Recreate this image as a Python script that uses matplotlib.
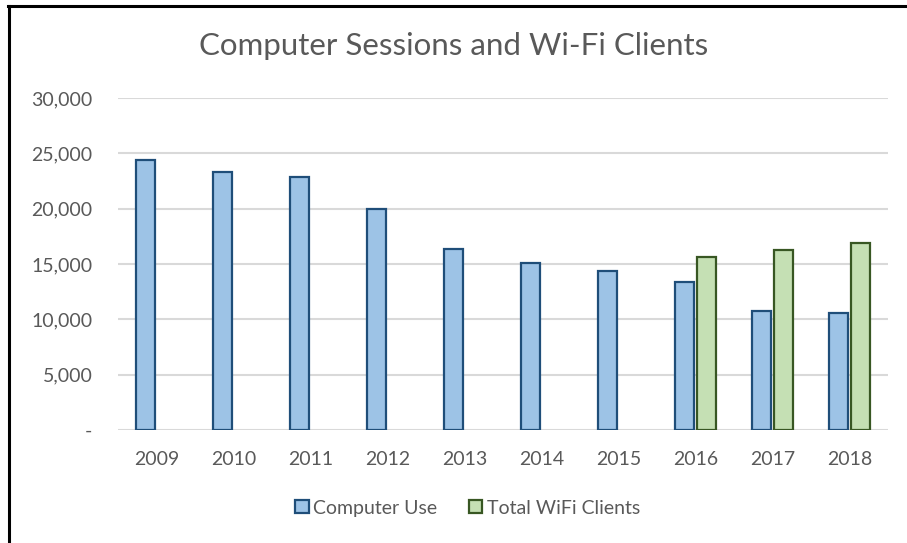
import matplotlib.pyplot as plt
from matplotlib.lines import Line2D
import numpy as np

years = ['2009', '2010', '2011', '2012', '2013', '2014', '2015', '2016', '2017', '2018']
computer_use = [24400, 23300, 22850, 19930, 16400, 15100, 14380, 13350, 10740, 10560]
wifi_clients = [0, 0, 0, 0, 0, 0, 0, 15620, 16260, 16900]
yticks = [0, 5000, 10000, 15000, 20000, 25000, 30000]
ytick_labels = ['-', '5,000', '10,000', '15,000', '20,000', '25,000', '30,000']

plt.rcParams['font.family'] = ['Lato', 'DejaVu Sans']
text_color = '#595959'

fig = plt.figure(figsize=(9.07, 5.43), dpi=100)
ax = fig.add_axes([118 / 907, 1 - 430 / 543, 770 / 907, 332 / 543])

x = np.arange(len(years))
w = 0.245
ax.bar(x - 0.145, computer_use, w, color='#9DC3E6', edgecolor='#1F4E79',
       linewidth=1.6, label='Computer Use', zorder=3)
wifi_mask = np.array(wifi_clients) > 0
ax.bar(x[wifi_mask] + 0.145, np.array(wifi_clients)[wifi_mask], w,
       color='#C5E0B4', edgecolor='#385723', linewidth=1.6,
       label='Total WiFi Clients', zorder=3)

ax.set_xlim(-0.5, len(years) - 0.5)
ax.set_ylim(0, 30000)
ax.set_yticks(yticks)
ax.set_yticklabels(ytick_labels)
ax.set_xticks(x)
ax.set_xticklabels(years)
ax.tick_params(axis='both', length=0, labelsize=14, colors=text_color)
ax.tick_params(axis='y', pad=18.5)
ax.tick_params(axis='x', pad=15)
ax.yaxis.grid(True, color='#D9D9D9', linewidth=1.5, zorder=0)
for s in ax.spines.values():
    s.set_visible(False)

fig.text(0.5, 1 - 46 / 543, 'Computer Sessions and Wi-Fi Clients',
         ha='center', va='center', fontsize=22.5, color=text_color)

ax.legend(loc='center', bbox_to_anchor=(0.454, -0.235),
          ncol=2, frameon=False, fontsize=14, labelcolor=text_color,
          handlelength=0.68, handleheight=0.68, handletextpad=0.22, columnspacing=1.65)

# black frame on top and left, like the screenshot
fig.add_artist(Line2D([9 / 907, 9 / 907], [0, 1 - 6 / 543], color='black', linewidth=2.2))
fig.add_artist(Line2D([8 / 907, 1], [1 - 6 / 543, 1 - 6 / 543], color='black', linewidth=2.2))

fig.savefig('out.png', dpi=100)
